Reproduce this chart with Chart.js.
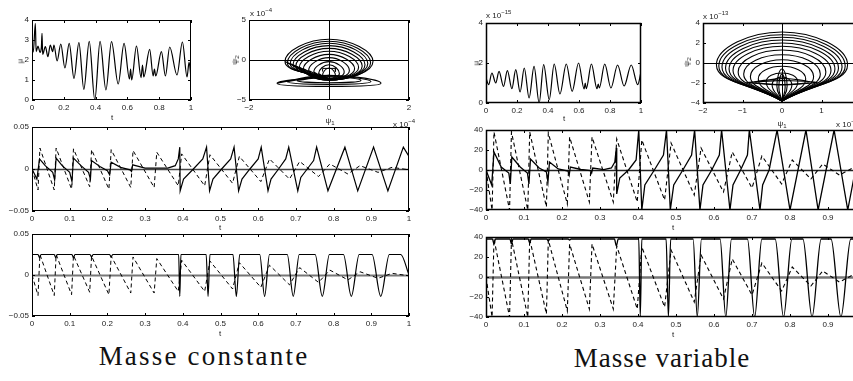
<!DOCTYPE html>
<html>
<head>
<meta charset="utf-8">
<script src="https://cdn.jsdelivr.net/npm/chart.js@4.4.1/dist/chart.umd.min.js"></script>
<style>
  html, body { margin: 0; padding: 0; background: #fff; overflow: hidden; width: 853px; height: 381px; position: relative; }
  canvas { position: absolute; }
  .lbl { position: absolute; font: 8px "Liberation Sans", Arial, sans-serif; color: #222; transform: translate(-50%, -50%); white-space: nowrap; will-change: transform; }
  .rot { transform: translate(-50%, -50%) rotate(-90deg); }
  .lbl sub { font-size: 6px; vertical-align: -2px; }
  .exp { position: absolute; font: 8px "Liberation Sans", Arial, sans-serif; color: #222; white-space: nowrap; will-change: transform; }
  .exp sup { font-size: 6px; vertical-align: 4px; }
  .ttl { position: absolute; font: 27px "Liberation Serif", serif; letter-spacing: 1px; color: #111; transform: translate(-50%, -50%); white-space: nowrap; }
</style>
</head>
<body>

<div class="lbl rot" style="left:20px;top:61px">μ</div>
<div class="lbl" style="left:112px;top:117px">t</div>
<div class="exp" style="left:250px;top:7px">x 10<sup>−4</sup></div>
<div class="lbl rot" style="left:235px;top:60px">ψ<sub>2</sub></div>
<div class="lbl" style="left:330px;top:121px">ψ<sub>1</sub></div>
<div class="exp" style="left:393px;top:118px">x 10<sup>−4</sup></div>
<div class="lbl" style="left:220px;top:227px">t</div>
<div class="lbl" style="left:220px;top:333px">t</div>
<div class="ttl" style="left:204px;top:356px;letter-spacing:2.2px">Masse constante</div>

<div class="exp" style="left:486px;top:9px">x 10<sup>−15</sup></div>
<div class="lbl rot" style="left:476px;top:63px">μ</div>
<div class="lbl" style="left:564px;top:118px">t</div>
<div class="exp" style="left:703px;top:10px">x 10<sup>−13</sup></div>
<div class="lbl rot" style="left:687px;top:62px">ψ<sub>2</sub></div>
<div class="lbl" style="left:782px;top:124px">ψ<sub>1</sub></div>
<div class="exp" style="left:836px;top:118px">x 10<sup>−13</sup></div>
<div class="lbl" style="left:673px;top:227px">t</div>
<div class="lbl" style="left:673px;top:334px">t</div>
<div class="ttl" style="left:662px;top:358px">Masse variable</div>

<script>
// ---- data: [t, value] pairs ----
// mu(t), constant mass
const muConst = [[0,2.6],[0.008,2.4],[0.021,3.83],[0.026,2.42],[0.038,2.7],[0.05,2.38],[0.059,2.63],[0.063,3.33],[0.067,2.28],[0.084,2.67],[0.1,2.17],[0.115,2.75],[0.13,2.42],[0.138,2.75],[0.158,1.95],[0.181,2.8],[0.207,1.6],[0.234,2.83],[0.264,1.08],[0.295,2.87],[0.326,0.53],[0.36,2.93],[0.395,0],[0.428,2.93],[0.465,0.5],[0.5,2.92],[0.542,0.8],[0.579,2.83],[0.613,1.05],[0.62,1.55],[0.627,1.0],[0.657,2.7],[0.686,1.12],[0.695,1.75],[0.703,1.15],[0.74,2.53],[0.762,1.2],[0.77,1.55],[0.778,1.2],[0.814,2.42],[0.839,1.2],[0.866,2.65],[0.912,1.25],[0.946,2.9],[0.975,1.15],[0.988,1.9],[1,1.1]];
// mu(t), variable mass (x 1e-15)
const muVar = [[0,1.25],[0.017,0.92],[0.038,1.5],[0.063,1.0],[0.084,1.58],[0.113,0.83],[0.138,1.62],[0.167,0.72],[0.192,1.67],[0.22,0.55],[0.247,1.75],[0.278,0.25],[0.31,1.83],[0.343,0],[0.372,1.92],[0.408,0.17],[0.44,1.95],[0.477,0.45],[0.518,1.95],[0.556,0.58],[0.597,2.0],[0.633,0.7],[0.64,1.0],[0.647,0.72],[0.68,1.95],[0.716,0.72],[0.724,0.95],[0.731,0.75],[0.766,1.95],[0.806,0.75],[0.849,1.9],[0.891,0.85],[0.937,1.9],[0.979,0.92],[1,1.55]];

// middle / bottom rows, constant mass
const solidConstMid = [[0,0],[0.013,-0.012],[0.02,0.012],[0.035,0.004],[0.055,-0.004],[0.06,-0.013],[0.064,0.013],[0.08,0.004],[0.1,-0.004],[0.106,-0.015],[0.11,0.013],[0.13,0.004],[0.15,-0.004],[0.155,-0.012],[0.158,0.01],[0.18,0.003],[0.2,-0.002],[0.206,-0.007],[0.21,0.008],[0.235,0.002],[0.26,-0.001],[0.264,-0.003],[0.267,0.005],[0.3,0.001],[0.36,0.001],[0.38,0.004],[0.388,0.012],[0.392,0.026],[0.393,-0.026],[0.402,-0.012],[0.428,0],[0.453,0.012],[0.463,0.026],[0.471,-0.026],[0.48,-0.012],[0.503,0],[0.527,0.012],[0.536,0.026],[0.548,-0.026],[0.557,-0.012],[0.578,0],[0.6,0.012],[0.608,0.026],[0.626,-0.026],[0.634,-0.012],[0.654,0],[0.673,0.012],[0.681,0.026],[0.705,-0.026],[0.713,-0.01],[0.73,0],[0.747,0.01],[0.755,0.026],[0.785,-0.026],[0.83,0.026],[0.864,-0.026],[0.906,0.026],[0.944,-0.026],[0.985,0.026],[1,0.015]];
const solidConstBot = [[0,0.025],[0.016,0.025],[0.02,0.021],[0.024,0.025],[0.059,0.025],[0.063,0.021],[0.067,0.025],[0.106,0.025],[0.11,0.021],[0.114,0.025],[0.154,0.025],[0.158,0.022],[0.162,0.025],[0.206,0.025],[0.21,0.022],[0.214,0.025],[0.389,0.025],[0.392,-0.026],[0.395,0.025],[0.462,0.025],[0.467,-0.026],[0.472,0.025],[0.533,0.025],[0.542,-0.026],[0.551,0.025],[0.604,0.025],[0.617,-0.026],[0.63,0.025],[0.677,0.025],[0.693,-0.026],[0.709,0.025],[0.751,0.025],[0.77,-0.026],[0.789,0.025],[0.826,0.025],[0.847,-0.026],[0.868,0.025],[0.902,0.025],[0.925,-0.026],[0.948,0.025],[0.978,0.025],[1,0]];
const dashConst = [[0,0],[0.016,-0.025],[0.021,0.025],[0.059,-0.025],[0.064,0.025],[0.105,-0.024],[0.11,0.024],[0.153,-0.021],[0.158,0.023],[0.204,-0.024],[0.21,0.023],[0.262,-0.022],[0.268,0.022],[0.324,-0.022],[0.331,0.02],[0.388,-0.02],[0.397,0.018],[0.458,-0.02],[0.472,0.017],[0.532,-0.017],[0.55,0.015],[0.607,-0.015],[0.63,0.012],[0.683,-0.012],[0.71,0.009],[0.76,-0.009],[0.79,0.006],[0.838,-0.006],[0.87,0.004],[0.918,-0.004],[0.955,0.002],[1,-0.001]];

// middle / bottom rows, variable mass
const solidVarMid = [[0,0],[0.015,-15],[0.021,18],[0.04,3],[0.06,-3],[0.064,-14],[0.068,13],[0.09,3],[0.109,-3],[0.113,-14],[0.117,11],[0.14,2],[0.159,-2],[0.163,-12],[0.167,8],[0.19,1],[0.216,-1],[0.219,-5],[0.222,3],[0.25,0.5],[0.275,-0.5],[0.278,-3],[0.281,2],[0.31,0.3],[0.33,2],[0.339,8],[0.343,22],[0.344,-24],[0.352,-8],[0.375,0],[0.395,10],[0.402,40],[0.41,-40],[0.418,-15],[0.443,0],[0.467,15],[0.475,40],[0.485,-40],[0.494,-15],[0.518,0],[0.541,15],[0.549,40],[0.563,-40],[0.571,-15],[0.594,0],[0.614,15],[0.62,40],[0.642,-40],[0.65,-15],[0.67,0],[0.688,15],[0.693,40],[0.721,-40],[0.728,-15],[0.745,0],[0.766,40],[0.8,-40],[0.842,40],[0.874,-40],[0.916,40],[0.952,-40],[0.992,40],[1.02,-40]];
const solidVarBot = [[0,38],[0.017,38],[0.021,33],[0.025,38],[0.063,38],[0.067,33],[0.071,38],[0.111,38],[0.115,34],[0.119,38],[0.16,38],[0.164,36],[0.168,38],[0.216,38],[0.22,37],[0.224,38],[0.338,38],[0.343,31],[0.348,38],[0.402,38],[0.406,-40],[0.41,38],[0.474,38],[0.48,-40],[0.486,38],[0.545,38],[0.556,-40],[0.567,38],[0.616,38],[0.631,-40],[0.646,38],[0.688,38],[0.707,-40],[0.726,38],[0.761,38],[0.783,-40],[0.805,38],[0.834,38],[0.858,-40],[0.882,38],[0.908,38],[0.934,-40],[0.96,38],[0.985,38],[1,20]];
const dashVar = [[0,0],[0.016,-40],[0.021,38],[0.062,-40],[0.067,38],[0.11,-40],[0.115,38],[0.159,-37],[0.164,37],[0.214,-34],[0.22,33],[0.272,-32],[0.279,33],[0.335,-32],[0.344,31],[0.398,-32],[0.41,30],[0.47,-30],[0.487,27],[0.548,-25],[0.566,22],[0.625,-22],[0.648,18],[0.7,-18],[0.726,14],[0.778,-14],[0.806,10],[0.855,-9],[0.886,6],[0.93,-5],[0.965,2],[1,-1]];

// phase portraits: loops as [half width, y at widest, top y, bottom y]
const loopsConst = [[1.1,-0.2,2.6,-2.5],[1.04,-0.35,2.35,-2.5],[0.97,-0.45,2.1,-2.5],[0.9,-0.6,1.8,-2.5],[0.83,-0.75,1.45,-2.5],[0.74,-0.9,1.1,-2.45],[0.64,-1.1,0.7,-2.45],[0.51,-1.3,0.3,-2.4],[0.38,-1.5,-0.2,-2.4],[0.26,-1.7,-0.6,-2.35],[0.16,-1.9,-1.0,-2.3]];
const flatConst = [[1.3,-2.9,-1.9,-3.3],[1.05,-2.7,-2.0,-3.05],[0.8,-2.55,-2.1,-2.85]];
const boxConst = [[-0.16,-1.45],[-0.16,-1.05],[0.16,-1.05],[0.16,-1.45]];
const loopsVar = [[1.66,-0.2,3.1,-3.8],[1.6,-0.3,2.83,-3.8],[1.52,-0.4,2.57,-3.8],[1.43,-0.5,2.3,-3.8],[1.34,-0.6,2.0,-3.8],[1.24,-0.75,1.67,-3.8],[1.11,-0.9,1.3,-3.8],[0.97,-1.1,0.83,-3.8],[0.8,-1.35,0.33,-3.8],[0.6,-1.6,-0.33,-3.8],[0.4,-1.9,-1.0,-3.8],[0.25,-2.2,-1.4,-3.8],[0.13,-2.3,-0.6,-3.8],[0.08,-2.4,-1.1,-3.8]];
const flatVar = [[0.9,-1.95,-1.75,-2.15],[0.7,-1.9,-1.55,-2.2]];

// ---- helpers ----
const pts = (a) => a.map(([x, y]) => ({ x, y }));
// pointed bottom (variable mass) / rounded closed loop (constant mass)
const domeLoop = ([w, s, top, bot]) => pts([[0, bot], [-w, s], [0, top], [w, s], [0, bot]]);
const roundLoop = ([w, s, top, bot]) => pts([[0, bot], [-w, s], [0, top], [w, s], [0, bot], [-w, s]]);
const flatLoop = ([w, s, top, bot]) => pts([[-w, s], [0, top], [w, s], [0, bot], [-w, s], [0, top]]);
const fmt = (v) => { const r = +v.toFixed(4); return (r < 0 ? "\u2212" : "") + Math.abs(r); };
const tickFont = { family: "Liberation Sans", size: 8 };

const framePlugin = {
  id: "frame",
  beforeDatasetsDraw(chart, args, o) {
    const { ctx, chartArea: a, scales: { x, y } } = chart;
    ctx.save();
    ctx.strokeStyle = o.zeroColor || "#000";
    ctx.lineWidth = o.zeroWidth || 1;
    if (o.zeroY) {
      const py = Math.round(y.getPixelForValue(0)) + 0.5;
      ctx.beginPath(); ctx.moveTo(a.left, py); ctx.lineTo(a.right, py); ctx.stroke();
    }
    if (o.zeroX) {
      const px = Math.round(x.getPixelForValue(0)) + 0.5;
      ctx.beginPath(); ctx.moveTo(px, a.top); ctx.lineTo(px, a.bottom); ctx.stroke();
    }
    ctx.restore();
  },
  afterDatasetsDraw(chart, args, o) {
    const { ctx, chartArea: a, scales: { x, y } } = chart;
    ctx.save();
    ctx.strokeStyle = "#000";
    ctx.lineWidth = o.boxWidth || 1;
    ctx.strokeRect(a.left + 0.5, a.top + 0.5, a.right - a.left - 1, a.bottom - a.top - 1);
    ctx.lineWidth = 1;
    ctx.beginPath();
    x.ticks.forEach((t) => {
      const px = Math.round(x.getPixelForValue(t.value)) + 0.5;
      ctx.moveTo(px, a.bottom); ctx.lineTo(px, a.bottom - 3);
      ctx.moveTo(px, a.top); ctx.lineTo(px, a.top + 3);
    });
    y.ticks.forEach((t) => {
      const py = Math.round(y.getPixelForValue(t.value)) + 0.5;
      ctx.moveTo(a.left, py); ctx.lineTo(a.left + 3, py);
      ctx.moveTo(a.right, py); ctx.lineTo(a.right - 3, py);
    });
    ctx.stroke();
    ctx.restore();
  },
};

function plot(box, xr, yr, datasets, frame) {
  const PL = 40, PT = 10, PR = 14, PB = 30;
  const c = document.createElement("canvas");
  c.width = box[2] + PL + PR;
  c.height = box[3] + PT + PB;
  c.style.left = box[0] - PL + "px";
  c.style.top = box[1] - PT + "px";
  document.body.appendChild(c);
  const axis = (r) => ({
    type: "linear", min: r[0], max: r[1],
    grid: { display: false, drawTicks: false }, border: { display: false },
    ticks: { stepSize: r[2], font: tickFont, color: "#222", padding: 3, maxRotation: 0, autoSkip: false, callback: fmt },
  });
  const xs = axis(xr), ys = axis(yr);
  xs.afterFit = (s) => { s.height = PB; };
  ys.afterFit = (s) => { s.width = PL; };
  return new Chart(c, {
    type: "scatter",
    data: { datasets },
    options: {
      responsive: false, animation: false, devicePixelRatio: 1,
      layout: { padding: { top: PT, right: PR, left: 0, bottom: 0 } },
      plugins: { legend: { display: false }, tooltip: { enabled: false }, frame: frame || {} },
      scales: { x: xs, y: ys },
    },
    plugins: [framePlugin],
  });
}

const line = (data, extra) => Object.assign({ data, showLine: true, pointRadius: 0, borderColor: "#000", borderWidth: 1.2, tension: 0, fill: false }, extra || {});

// top row
plot([32, 20, 159, 80], [0, 1, 0.2], [0, 4, 1], [line(pts(muConst), { cubicInterpolationMode: "monotone" })]);
plot([249, 20, 160, 80], [-2, 2, 2], [-5, 5, 5],
  loopsConst.map((l) => line(roundLoop(l), { tension: 0.5, borderWidth: 1.1 }))
    .concat(flatConst.map((l) => line(flatLoop(l), { tension: 0.5, borderWidth: 1.1 })))
    .concat([line(pts(boxConst), { borderWidth: 1 })]),
  { zeroX: true, zeroY: true });
plot([486, 23, 155, 80], [0, 1, 0.2], [0, 4, 2], [line(pts(muVar), { cubicInterpolationMode: "monotone" })], { boxWidth: 1.5 });
plot([703, 23, 158, 80], [-2, 2, 1], [-4, 4, 2],
  loopsVar.map((l) => line(domeLoop(l), { tension: 0.5, borderWidth: 1.1 }))
    .concat(flatVar.map((l) => line(flatLoop(l), { tension: 0.3, borderWidth: 1.1 }))),
  { zeroX: true, zeroY: true, boxWidth: 1.5 });

// middle and bottom rows
plot([32, 127, 377, 84], [0, 1, 0.1], [-0.05, 0.05, 0.05],
  [line(pts(solidConstMid)), line(pts(dashConst), { borderDash: [4, 3], borderWidth: 1 })],
  { zeroY: true, zeroColor: "#444", zeroWidth: 1.6 });
plot([32, 234, 377, 82], [0, 1, 0.1], [-0.05, 0.05, 0.05],
  [line(pts(solidConstBot), { cubicInterpolationMode: "monotone" }), line(pts(dashConst), { borderDash: [4, 3], borderWidth: 1 })],
  { zeroY: true, zeroColor: "#777", zeroWidth: 2 });
plot([486, 130, 380, 80], [0, 1, 0.1], [-40, 40, 20],
  [line(pts(solidVarMid), { borderWidth: 1.3 }), line(pts(dashVar), { borderDash: [4, 3], borderWidth: 1.1 })],
  { zeroY: true, zeroColor: "#222", zeroWidth: 1.5, boxWidth: 1.5 });
plot([486, 237, 380, 80], [0, 1, 0.1], [-40, 40, 20],
  [line(pts(solidVarBot), { cubicInterpolationMode: "monotone", borderWidth: 1.3 }), line(pts(dashVar), { borderDash: [4, 3], borderWidth: 1.1 })],
  { zeroY: true, zeroColor: "#777", zeroWidth: 2.5, boxWidth: 1.5 });
</script>
</body>
</html>
